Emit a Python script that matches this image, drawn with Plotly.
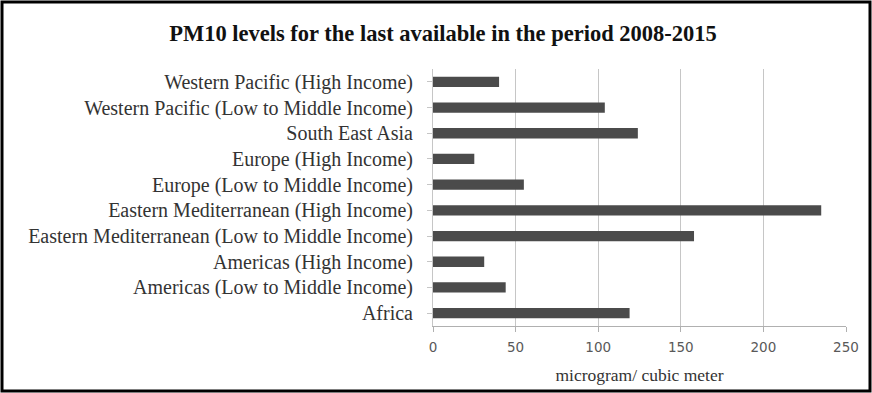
import plotly.graph_objects as go

categories = [
    "Africa",
    "Americas (Low to Middle Income)",
    "Americas (High Income)",
    "Eastern Mediterranean (Low to Middle Income)",
    "Eastern Mediterranean (High Income)",
    "Europe (Low to Middle Income)",
    "Europe (High Income)",
    "South East Asia",
    "Western Pacific (Low to Middle Income)",
    "Western Pacific (High Income)",
]
pm10_values = [119, 44, 31, 158, 235, 55, 25, 124, 104, 40]
x_ticks = [0, 50, 100, 150, 200, 250]

W, H = 872, 393
ML, MR, MT, MB = 433, 26, 69, 67
pw, ph = W - ML - MR, H - MT - MB

fig = go.Figure(go.Bar(
    y=categories, x=pm10_values, orientation="h",
    marker=dict(color="#4b4b4b", line=dict(width=0)),
))

def px_x(p):
    return (p - ML) / pw

def px_y(p):
    return 1 - (p - MT) / ph

fig.update_layout(
    width=W, height=H,
    margin=dict(l=ML, r=MR, t=MT, b=MB),
    paper_bgcolor="white", plot_bgcolor="white",
    bargap=0.6,
    showlegend=False,
    title=dict(
        text="<b>PM10 levels for the last available in the period 2008-2015</b>",
        x=443 / W, xanchor="center", y=1 - 33 / H, yanchor="middle",
        font=dict(family="Liberation Serif", size=22.5, color="#111111"),
    ),
    xaxis=dict(
        range=[0, 250], tickvals=x_ticks,
        showgrid=True, gridcolor="#c6c6c6", gridwidth=1,
        showline=True, linecolor="#b0b0b0", linewidth=1,
        ticks="outside", ticklen=5, tickcolor="#b0b0b0",
        ticklabelstandoff=4,
        tickfont=dict(family="DejaVu Sans", size=13.5, color="#595959"),
        zeroline=False,
        title=dict(text="microgram/ cubic meter", standoff=14,
                   font=dict(family="Liberation Serif", size=17.5, color="#333333")),
    ),
    yaxis=dict(
        showgrid=False, showline=True, linecolor="#c6c6c6", linewidth=1,
        ticks="outside", ticklen=5, tickcolor="#c6c6c6",
        ticklabelstandoff=10,
        tickfont=dict(family="Liberation Serif", size=20, color="#333333"),
    ),
    shapes=[dict(
        type="rect", xref="paper", yref="paper",
        x0=px_x(2), x1=px_x(W - 2), y0=px_y(H - 2), y1=px_y(2),
        line=dict(color="black", width=3), fillcolor="rgba(0,0,0,0)", layer="above",
    )],
)

fig.write_html("out.html")
